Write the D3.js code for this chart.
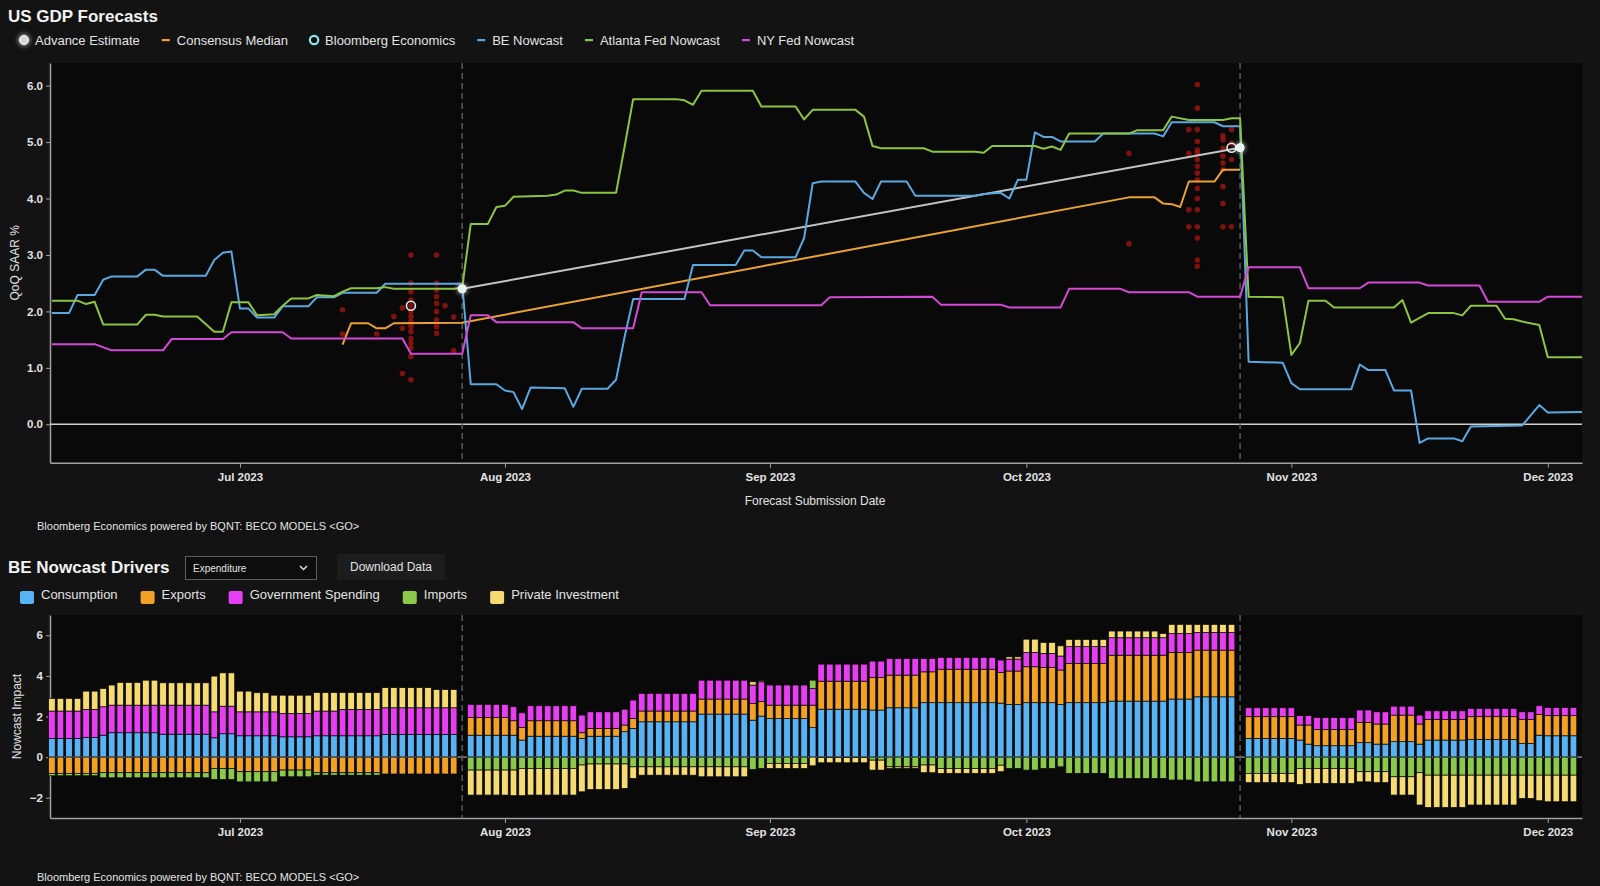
<!DOCTYPE html>
<html lang="en">
  <head>
    <meta charset="utf-8">
    <title>US GDP Forecasts</title>
    <style>
      body {
        margin: 0;
        background-color: #131313;
        font-family: "Liberation Sans", Arial, sans-serif;
      }
      svg {
        display: block;
      }
    </style>
    <script src="https://cdn.jsdelivr.net/npm/d3@7"></script>
  </head>
  <body>
    <script>

    // ---- top chart series: [date, QoQ SAAR %]
    const beNowcast = [
      ["2023-06-09",1.97],["2023-06-11",1.97],["2023-06-12",2.29],["2023-06-14",2.29],["2023-06-15",2.56],["2023-06-16",2.62],
      ["2023-06-19",2.62],["2023-06-20",2.74],["2023-06-21",2.74],["2023-06-22",2.63],["2023-06-27",2.63],["2023-06-28",2.91],
      ["2023-06-29",3.04],["2023-06-30",3.06],["2023-07-01",2.05],["2023-07-02",2.05],["2023-07-03",1.89],["2023-07-05",1.89],
      ["2023-07-06",2.09],["2023-07-09",2.09],["2023-07-10",2.25],["2023-07-12",2.25],["2023-07-13",2.33],["2023-07-17",2.33],
      ["2023-07-18",2.49],["2023-07-27",2.49],["2023-07-28",0.71],["2023-07-31",0.71],["2023-08-01",0.6],["2023-08-02",0.57],
      ["2023-08-03",0.27],["2023-08-04",0.65],["2023-08-08",0.64],["2023-08-09",0.31],["2023-08-10",0.63],["2023-08-13",0.63],
      ["2023-08-14",0.79],["2023-08-15",1.55],["2023-08-16",2.22],["2023-08-22",2.22],["2023-08-23",2.82],["2023-08-28",2.82],
      ["2023-08-29",3.08],["2023-08-30",3.08],["2023-08-31",2.96],["2023-09-04",2.96],["2023-09-05",3.3],["2023-09-06",4.27],
      ["2023-09-07",4.3],["2023-09-11",4.3],["2023-09-12",4.1],["2023-09-13",3.99],["2023-09-14",4.3],["2023-09-17",4.3],
      ["2023-09-18",4.05],["2023-09-25",4.05],["2023-09-26",4.08],["2023-09-28",4.1],["2023-09-29",4.0],["2023-09-30",4.33],
      ["2023-10-01",4.33],["2023-10-02",5.17],["2023-10-03",5.09],["2023-10-04",5.09],["2023-10-05",5.01],["2023-10-09",5.01],
      ["2023-10-10",5.15],["2023-10-16",5.15],["2023-10-17",5.1],["2023-10-18",5.35],["2023-10-23",5.35],["2023-10-24",5.28],
      ["2023-10-26",5.28],["2023-10-27",1.11],["2023-10-31",1.09],["2023-11-01",0.73],["2023-11-02",0.62],["2023-11-08",0.62],
      ["2023-11-09",1.06],["2023-11-10",0.96],["2023-11-12",0.96],["2023-11-13",0.6],["2023-11-15",0.6],["2023-11-16",-0.33],
      ["2023-11-17",-0.25],["2023-11-20",-0.25],["2023-11-21",-0.3],["2023-11-22",-0.04],["2023-11-28",-0.02],["2023-11-29",0.16],
      ["2023-11-30",0.34],["2023-12-01",0.21],["2023-12-05",0.22]
    ];

    const atlantaFed = [
      ["2023-06-09",2.19],["2023-06-12",2.19],["2023-06-13",2.13],["2023-06-14",2.17],["2023-06-15",1.77],["2023-06-19",1.77],
      ["2023-06-20",1.94],["2023-06-21",1.94],["2023-06-22",1.91],["2023-06-26",1.91],["2023-06-28",1.64],["2023-06-29",1.64],
      ["2023-06-30",2.16],["2023-07-02",2.16],["2023-07-03",1.93],["2023-07-05",1.95],["2023-07-06",2.1],["2023-07-07",2.23],
      ["2023-07-09",2.23],["2023-07-10",2.29],["2023-07-12",2.27],["2023-07-13",2.35],["2023-07-14",2.41],["2023-07-17",2.41],
      ["2023-07-18",2.43],["2023-07-19",2.4],["2023-07-26",2.4],["2023-07-27",2.42],["2023-07-28",3.55],["2023-07-30",3.55],
      ["2023-07-31",3.85],["2023-08-01",3.87],["2023-08-02",4.03],["2023-08-06",4.05],["2023-08-07",4.07],["2023-08-08",4.14],
      ["2023-08-09",4.14],["2023-08-10",4.1],["2023-08-14",4.1],["2023-08-15",4.92],["2023-08-16",5.76],["2023-08-21",5.76],
      ["2023-08-22",5.74],["2023-08-23",5.66],["2023-08-24",5.91],["2023-08-30",5.91],["2023-08-31",5.63],["2023-09-04",5.63],
      ["2023-09-05",5.4],["2023-09-06",5.57],["2023-09-11",5.57],["2023-09-12",5.45],["2023-09-13",4.93],["2023-09-14",4.89],
      ["2023-09-19",4.89],["2023-09-20",4.83],["2023-09-25",4.83],["2023-09-26",4.81],["2023-09-27",4.93],["2023-10-02",4.93],
      ["2023-10-03",4.88],["2023-10-04",4.92],["2023-10-05",4.86],["2023-10-06",5.15],["2023-10-13",5.15],["2023-10-14",5.21],
      ["2023-10-17",5.21],["2023-10-18",5.45],["2023-10-20",5.39],["2023-10-24",5.39],["2023-10-25",5.42],["2023-10-26",5.42],
      ["2023-10-27",2.26],["2023-10-31",2.25],["2023-11-01",1.23],["2023-11-02",1.44],["2023-11-03",2.19],["2023-11-05",2.19],
      ["2023-11-06",2.07],["2023-11-13",2.07],["2023-11-14",2.2],["2023-11-15",1.8],["2023-11-17",1.97],["2023-11-20",1.97],
      ["2023-11-21",1.93],["2023-11-22",2.1],["2023-11-25",2.1],["2023-11-26",1.87],["2023-11-27",1.86],["2023-11-28",1.82],
      ["2023-11-30",1.76],["2023-12-01",1.19],["2023-12-05",1.19]
    ];

    const nyFed = [
      ["2023-06-09",1.42],["2023-06-14",1.42],["2023-06-16",1.31],["2023-06-22",1.31],["2023-06-23",1.51],["2023-06-29",1.51],
      ["2023-06-30",1.63],["2023-07-06",1.63],["2023-07-07",1.52],["2023-07-20",1.52],["2023-07-21",1.25],["2023-07-27",1.25],
      ["2023-07-28",1.93],["2023-07-30",1.93],["2023-07-31",1.81],["2023-08-09",1.81],["2023-08-10",1.7],["2023-08-16",1.7],
      ["2023-08-17",2.34],["2023-08-24",2.34],["2023-08-25",2.11],["2023-09-07",2.11],["2023-09-08",2.25],["2023-09-20",2.26],
      ["2023-09-21",2.12],["2023-09-28",2.12],["2023-09-29",2.07],["2023-10-05",2.07],["2023-10-06",2.4],["2023-10-12",2.4],
      ["2023-10-13",2.34],["2023-10-20",2.34],["2023-10-21",2.26],["2023-10-26",2.26],["2023-10-27",2.78],["2023-11-02",2.78],
      ["2023-11-03",2.41],["2023-11-09",2.41],["2023-11-10",2.51],["2023-11-16",2.51],["2023-11-17",2.46],["2023-11-23",2.46],
      ["2023-11-24",2.17],["2023-11-30",2.17],["2023-12-01",2.26],["2023-12-05",2.26]
    ];

    const consensusMedian = [
      ["2023-07-13",1.41],["2023-07-14",1.79],["2023-07-16",1.79],["2023-07-17",1.7],["2023-07-18",1.7],["2023-07-19",1.79],
      ["2023-07-27",1.8],["2023-10-13",4.02],["2023-10-16",4.02],["2023-10-17",3.91],["2023-10-18",3.9],["2023-10-19",3.85],
      ["2023-10-20",4.3],["2023-10-23",4.3],["2023-10-24",4.51],["2023-10-26",4.51]
    ];

    const advanceEstimate = [["2023-07-27",2.4],["2023-10-26",4.9]];
    const bloombergEconomics = [["2023-07-21",2.1],["2023-10-25",4.9]];
    const releaseDates = ["2023-07-27","2023-10-26"];

    // individual economist forecasts (red dots)
    const forecastDots = [
      ["2023-07-13",2.03],["2023-07-13",1.6],["2023-07-17",1.6],["2023-07-19",1.91],["2023-07-20",0.9],["2023-07-20",2.06],
      ["2023-07-20",1.7],["2023-07-21",3.0],["2023-07-21",2.5],["2023-07-21",2.35],["2023-07-21",2.2],["2023-07-21",2.1],
      ["2023-07-21",2.0],["2023-07-21",1.91],["2023-07-21",1.82],["2023-07-21",1.73],["2023-07-21",1.64],["2023-07-21",1.52],
      ["2023-07-21",1.44],["2023-07-21",1.35],["2023-07-21",1.2],["2023-07-21",0.79],["2023-07-24",3.0],["2023-07-24",2.5],
      ["2023-07-24",2.38],["2023-07-24",2.26],["2023-07-24",2.14],["2023-07-24",2.0],["2023-07-24",1.85],["2023-07-24",1.73],
      ["2023-07-24",1.61],["2023-07-25",2.1],["2023-07-26",1.9],["2023-07-26",1.3],
      ["2023-10-13",4.8],["2023-10-13",3.2],["2023-10-20",5.22],["2023-10-20",4.8],["2023-10-20",3.8],["2023-10-20",3.5],
      ["2023-10-21",6.02],["2023-10-21",5.6],["2023-10-21",5.22],["2023-10-21",5.01],["2023-10-21",4.86],["2023-10-21",4.8],
      ["2023-10-21",4.69],["2023-10-21",4.57],["2023-10-21",4.45],["2023-10-21",4.33],["2023-10-21",4.18],["2023-10-21",4.0],
      ["2023-10-21",3.8],["2023-10-21",3.5],["2023-10-21",3.3],["2023-10-21",2.91],["2023-10-21",2.8],
      ["2023-10-24",5.11],["2023-10-24",5.04],["2023-10-24",4.89],["2023-10-24",4.75],["2023-10-24",4.63],["2023-10-24",4.51],
      ["2023-10-24",4.21],["2023-10-24",3.91],["2023-10-24",3.5],["2023-10-25",5.22],["2023-10-25",4.98],["2023-10-25",4.69],
      ["2023-10-25",3.5]
    ];

    // ---- bottom chart: daily drivers, three runs of days
    const barRunStarts = ["2023-06-09","2023-07-28","2023-10-27"];
    const barRunLengths = [48, 90, 39];

    const consumption = [
      .92,.92,.92,.92,.97,.97,1.08,1.2,1.2,1.2,1.2,1.2,1.2,1.13,1.13,1.13,1.13,1.13,1.13,.95,1.15,1.15,
      1.05,1.05,1.05,1.05,1.05,1,1,1,1,1.05,1.05,1.05,1.05,1.05,1.05,1.05,1.05,1.12,1.12,1.12,1.12,1.12,1.12,1.12,1.12,1.12,
      1.08,1.08,1.08,1.08,1.08,1.08,.84,1.03,1.03,1.03,1.03,1.03,1.03,.92,1.03,1.03,1.03,1.03,1.25,1.41,1.74,1.74,1.74,1.74,1.74,1.74,1.74,
      2.12,2.12,2.12,2.12,2.12,2.12,1.82,2.02,1.9,1.9,1.9,1.9,1.9,1.45,2.36,2.36,2.36,2.36,2.36,2.36,2.32,2.32,2.43,2.43,2.43,2.43,
      2.68,2.68,2.68,2.68,2.68,2.68,2.68,2.68,2.68,2.66,2.59,2.59,2.68,2.68,2.68,2.68,2.59,2.68,2.68,2.68,2.68,2.68,
      2.76,2.76,2.76,2.76,2.76,2.76,2.76,2.86,2.86,2.86,2.97,2.97,2.97,2.97,2.97,
      .92,.92,.92,.92,.92,.92,.84,.64,.56,.56,.56,.56,.56,.71,.71,.64,.64,.76,.76,.76,.64,.84,.84,.84,.84,.84,
      .87,.87,.87,.87,.87,.87,.67,.67,1.08,1.05,1.05,1.05,1.05
    ];

    const exportsImpact = [
      -.8,-.8,-.8,-.8,-.8,-.8,-.77,-.77,-.77,-.77,-.77,-.77,-.77,-.77,-.77,-.77,-.77,-.77,-.77,-.56,-.56,-.56,
      -.72,-.72,-.72,-.72,-.72,-.64,-.64,-.64,-.64,-.77,-.77,-.77,-.77,-.77,-.77,-.77,-.77,-.84,-.84,-.84,-.84,-.84,-.84,-.84,-.84,-.84,
      .87,.87,.87,.87,.87,.71,.61,.76,.76,.76,.76,.76,.76,.28,.38,.38,.38,.38,.33,.49,.53,.53,.53,.53,.53,.53,.53,
      .74,.74,.74,.74,.74,.74,.82,.71,.66,.66,.66,.66,.66,1.11,1.38,1.38,1.38,1.38,1.38,1.38,1.6,1.6,1.61,1.61,1.61,1.61,
      1.52,1.52,1.65,1.65,1.65,1.65,1.65,1.65,1.65,1.51,1.65,1.65,1.77,1.77,1.74,1.74,1.7,1.93,1.93,1.93,1.93,1.93,
      2.26,2.26,2.26,2.26,2.26,2.26,2.26,2.3,2.3,2.3,2.3,2.3,2.3,2.3,2.3,
      1.07,1.07,1.07,1.07,1.07,1.07,.74,.94,.8,.8,.8,.8,.8,1,1,.99,.99,1.31,1.31,1.31,.99,1.02,1.02,1.02,1.02,1.02,
      1.12,1.12,1.12,1.12,1.12,1.12,1.19,1.19,1.02,.99,.99,.99,.99
    ];

    const govSpending = [
      1.35,1.35,1.35,1.35,1.38,1.38,1.4,1.36,1.36,1.36,1.36,1.36,1.36,1.43,1.43,1.43,1.43,1.43,1.43,1.28,1.36,1.36,
      1.18,1.18,1.18,1.18,1.18,1.15,1.15,1.15,1.15,1.22,1.22,1.22,1.3,1.3,1.3,1.3,1.3,1.31,1.31,1.31,1.31,1.31,1.31,1.31,1.31,1.31,
      .65,.65,.65,.65,.65,.69,.73,.74,.74,.74,.74,.74,.74,.87,.82,.82,.82,.82,.78,.91,.87,.87,.87,.87,.87,.87,.87,
      .93,.93,.93,.93,.93,.93,.91,.98,.99,.99,.99,.99,.99,.82,.84,.84,.84,.84,.84,.84,.81,.81,.82,.82,.82,.82,
      .66,.66,.58,.58,.58,.58,.58,.58,.58,.61,.59,.59,.71,.71,.69,.69,.69,.83,.83,.83,.83,.83,
      .86,.86,.86,.86,.86,.86,.86,.93,.93,.93,.87,.87,.87,.87,.87,
      .44,.44,.44,.44,.44,.44,.46,.46,.59,.59,.59,.59,.59,.61,.61,.6,.6,.44,.44,.44,.44,.42,.42,.42,.42,.42,
      .41,.41,.41,.41,.41,.41,.37,.37,.43,.41,.41,.41,.41
    ];

    const importsImpact = [
      -.12,-.12,-.12,-.12,-.12,-.12,-.25,-.25,-.25,-.25,-.25,-.25,-.25,-.25,-.25,-.25,-.25,-.25,-.25,-.54,-.54,-.54,
      -.5,-.5,-.5,-.5,-.5,-.33,-.33,-.33,-.33,-.12,-.12,-.12,-.12,-.12,-.12,-.12,-.12,-.03,-.03,-.03,-.03,-.03,-.03,-.03,-.03,-.03,
      -.64,-.64,-.64,-.64,-.64,-.64,-.56,-.56,-.56,-.56,-.56,-.56,-.56,-.39,-.34,-.34,-.34,-.34,-.34,-.48,-.48,-.48,-.48,-.48,-.48,-.48,-.48,
      -.48,-.48,-.48,-.48,-.48,-.48,-.61,-.56,-.31,-.31,-.31,-.31,-.31,.41,-.02,-.02,-.02,-.02,-.02,-.02,-.15,-.15,-.48,-.48,-.48,-.48,
      -.39,-.39,-.56,-.56,-.56,-.56,-.56,-.56,-.56,-.4,-.56,-.56,-.64,-.64,-.56,-.56,-.48,-.8,-.8,-.8,-.8,-.8,
      -1.05,-1.05,-1.05,-1.05,-1.05,-1.05,-1.05,-1.13,-1.13,-1.13,-1.22,-1.22,-1.22,-1.22,-1.22,
      -.8,-.8,-.8,-.8,-.8,-.8,-.56,-.56,-.56,-.56,-.56,-.56,-.56,-.72,-.72,-.72,-.72,-.97,-.97,-.97,-.77,-.89,-.89,-.89,-.89,-.89,
      -.89,-.89,-.89,-.89,-.89,-.89,-.89,-.89,-.89,-.89,-.89,-.89,-.89
    ];

    const privateInvestment = [
      .62,.62,.62,.62,.9,.9,.9,.99,1.12,1.12,1.12,1.23,1.23,1.1,1.1,1.1,1.1,1.1,1.1,1.76,1.64,1.64,
      1.02,1.02,.94,.94,.82,.9,.9,.9,.9,.91,.91,.91,.83,.83,.83,.83,.83,.99,.99,.99,.99,.99,.99,.9,.9,.9,
      -1.23,-1.23,-1.23,-1.23,-1.23,-1.26,-1.34,-1.31,-1.31,-1.31,-1.31,-1.31,-1.31,-1.32,-1.26,-1.26,-1.26,-1.26,-1.2,-.57,-.41,-.41,-.41,-.41,-.41,-.41,-.41,
      -.49,-.49,-.49,-.49,-.49,-.49,.16,.05,-.25,-.25,-.25,-.25,-.25,-.43,-.26,-.26,-.26,-.26,-.26,-.26,-.49,-.49,-.08,-.08,-.08,-.08,
      -.38,-.38,-.24,-.24,-.24,-.24,-.24,-.24,-.24,-.32,.11,.11,.65,.65,.54,.54,.5,.36,.36,.36,.36,.36,
      .33,.33,.33,.33,.33,.33,.21,.45,.45,.45,.4,.4,.4,.4,.4,
      -.46,-.46,-.46,-.46,-.46,-.46,-.79,-.74,-.74,-.74,-.74,-.74,-.74,-.5,-.5,-.54,-.54,-.9,-.9,-.9,-1.59,-1.59,-1.59,-1.59,-1.59,-1.59,
      -1.47,-1.47,-1.47,-1.47,-1.47,-1.47,-1.15,-1.15,-1.26,-1.31,-1.31,-1.31,-1.31
    ];

    const driverKeys = ["Consumption","Exports","Government Spending","Imports","Private Investment"];
    const driverColors = ["#58b3f5","#f2a124","#e83ef2","#8cc84a","#f6da72"];

    const lineSeries = [
      {name: "Consensus Median", data: consensusMedian, color: "#eba233"},
      {name: "BE Nowcast", data: beNowcast, color: "#5aa8e0"},
      {name: "Atlanta Fed Nowcast", data: atlantaFed, color: "#8dc440"},
      {name: "NY Fed Nowcast", data: nyFed, color: "#d449d6"}
    ];

    const W = 1600, H = 886;
    const left = 50, right = 1582;
    const top1 = 63, bottom1 = 462.7;
    const top2 = 615, bottom2 = 818;
    const textColor = "#e2e2e2";

    const parse = d3.timeParse("%Y-%m-%d");
    const toPoints = arr => arr.map(d => ({date: parse(d[0]), v: d[1]}));

    const svg = d3.select("body").append("svg")
      .attr("width", W)
      .attr("height", H)
      .style("background-color", "#131313");

    const defs = svg.append("defs");
    const glow = defs.append("filter").attr("id", "glow")
      .attr("x", "-150%").attr("y", "-150%").attr("width", "400%").attr("height", "400%");
    glow.append("feGaussianBlur").attr("stdDeviation", 2.5).attr("result", "b");
    const fm = glow.append("feMerge");
    fm.append("feMergeNode").attr("in", "b");
    fm.append("feMergeNode").attr("in", "SourceGraphic");

    defs.append("clipPath").attr("id", "clip1")
      .append("rect").attr("x", left).attr("y", top1).attr("width", right - left).attr("height", bottom1 - top1);

    const x = d3.scaleTime()
      .domain([new Date(2023, 5, 8, 18, 40), new Date(2023, 11, 5)])
      .range([left, right]);

    const y1 = d3.scaleLinear().domain([-0.68, 6.4]).range([bottom1, top1]);
    const y2 = d3.scaleLinear().domain([-3, 7]).range([bottom2, top2]);

    const styleAxis = g => {
      g.select(".domain").attr("stroke", "#a0a0a0").attr("stroke-width", 1.5);
      g.selectAll(".tick line").attr("stroke", "#a0a0a0");
      g.selectAll(".tick text")
        .attr("fill", textColor)
        .style("font-size", "11.5px")
        .style("font-weight", "bold")
        .style("font-family", "\"Liberation Sans\", Arial, sans-serif");
    };

    // ================= TOP CHART =================
    svg.append("text")
      .attr("x", 8).attr("y", 22)
      .attr("fill", "#f2f2f2")
      .style("font-size", "17px").style("font-weight", "bold")
      .text("US GDP Forecasts");

    // legend
    const legend1 = [
      {name: "Advance Estimate", type: "dot"},
      {name: "Consensus Median", type: "dash", color: "#eba233"},
      {name: "Bloomberg Economics", type: "ring"},
      {name: "BE Nowcast", type: "dash", color: "#5aa8e0"},
      {name: "Atlanta Fed Nowcast", type: "dash", color: "#8dc440"},
      {name: "NY Fed Nowcast", type: "dash", color: "#d449d6"}
    ];
    let lx = 19;
    legend1.forEach(item => {
      const g = svg.append("g").attr("transform", `translate(${lx},40)`);
      if (item.type === "dot") {
        g.append("circle").attr("cx", 5).attr("cy", 0).attr("r", 4.5)
          .attr("fill", "#d8d8d8").attr("stroke", "#ffffff").attr("stroke-width", 1).attr("filter", "url(#glow)");
      } else if (item.type === "ring") {
        g.append("circle").attr("cx", 5).attr("cy", 0).attr("r", 4.2)
          .attr("fill", "#0c0c0c").attr("stroke", "#8fe6e6").attr("stroke-width", 2.2);
      } else {
        g.append("rect").attr("x", 1).attr("y", -1).attr("width", 8).attr("height", 2.2).attr("fill", item.color);
      }
      const t = g.append("text")
        .attr("x", 16).attr("y", 4.5)
        .attr("fill", textColor)
        .style("font-size", "13px")
        .text(item.name);
      lx += 16 + t.node().getComputedTextLength() + 21;
    });

    svg.append("rect")
      .attr("x", left).attr("y", top1)
      .attr("width", right - left).attr("height", bottom1 - top1)
      .attr("fill", "#090909");

    svg.append("g")
      .attr("transform", `translate(${left},0)`)
      .call(d3.axisLeft(y1).tickValues([0, 1, 2, 3, 4, 5, 6]).tickFormat(d3.format(".1f")).tickSize(4).tickSizeOuter(0))
      .call(styleAxis);

    svg.append("g")
      .attr("transform", `translate(0,${bottom1})`)
      .call(d3.axisBottom(x).ticks(d3.timeMonth.every(1)).tickFormat(d3.timeFormat("%b %Y")).tickSize(5).tickPadding(5).tickSizeOuter(0))
      .call(styleAxis);

    svg.append("text")
      .attr("transform", `translate(19,${(top1 + bottom1) / 2}) rotate(-90)`)
      .attr("text-anchor", "middle")
      .attr("fill", textColor)
      .style("font-size", "12px")
      .text("QoQ SAAR %");

    svg.append("text")
      .attr("x", 815).attr("y", 505)
      .attr("text-anchor", "middle")
      .attr("fill", textColor)
      .style("font-size", "12px")
      .text("Forecast Submission Date");

    svg.append("text")
      .attr("x", 37).attr("y", 530)
      .attr("fill", textColor)
      .style("font-size", "11px")
      .text("Bloomberg Economics powered by BQNT: BECO MODELS <GO>");

    const plot1 = svg.append("g").attr("clip-path", "url(#clip1)");

    plot1.append("line")
      .attr("x1", left).attr("x2", right)
      .attr("y1", y1(0)).attr("y2", y1(0))
      .attr("stroke", "#cfcfcf").attr("stroke-width", 1.5);

    plot1.selectAll(".release")
      .data(releaseDates)
      .join("line")
      .attr("x1", d => x(parse(d))).attr("x2", d => x(parse(d)))
      .attr("y1", top1).attr("y2", bottom1)
      .attr("stroke", "#5a5a5a").attr("stroke-width", 1.5)
      .attr("stroke-dasharray", "6,4");

    plot1.selectAll(".fdot")
      .data(toPoints(forecastDots))
      .join("circle")
      .attr("cx", d => x(d.date))
      .attr("cy", d => y1(d.v))
      .attr("r", 2.8)
      .attr("fill", "#e01812")
      .attr("opacity", 0.55);

    const line = d3.line().x(d => x(d.date)).y(d => y1(d.v));

    plot1.append("path")
      .datum(toPoints(advanceEstimate))
      .attr("d", line)
      .attr("fill", "none")
      .attr("stroke", "#c4c4c4")
      .attr("stroke-width", 2);

    lineSeries.forEach(s => {
      plot1.append("path")
        .datum(toPoints(s.data))
        .attr("d", line)
        .attr("fill", "none")
        .attr("stroke", s.color)
        .attr("stroke-width", 2)
        .attr("stroke-linejoin", "round");
    });

    plot1.selectAll(".be")
      .data(toPoints(bloombergEconomics))
      .join("circle")
      .attr("cx", d => x(d.date))
      .attr("cy", d => y1(d.v))
      .attr("r", 4.5)
      .attr("fill", "none")
      .attr("stroke", "#e4eeee")
      .attr("stroke-width", 1.6);

    plot1.selectAll(".adv")
      .data(toPoints(advanceEstimate))
      .join("circle")
      .attr("cx", d => x(d.date))
      .attr("cy", d => y1(d.v))
      .attr("r", 4)
      .attr("fill", "#e6f2ee")
      .attr("stroke", "#ffffff")
      .attr("filter", "url(#glow)");

    // ================= BOTTOM CHART =================
    svg.append("text")
      .attr("x", 8).attr("y", 573)
      .attr("fill", "#f2f2f2")
      .style("font-size", "17px").style("font-weight", "bold")
      .text("BE Nowcast Drivers");

    // dropdown + button
    svg.append("rect")
      .attr("x", 185.5).attr("y", 556.5).attr("width", 131).attr("height", 23)
      .attr("fill", "#0d0d0d").attr("stroke", "#5e5e5e");
    svg.append("text")
      .attr("x", 193).attr("y", 572)
      .attr("fill", textColor)
      .style("font-size", "10px")
      .text("Expenditure");
    svg.append("path")
      .attr("d", "M300,566 l3.5,3.5 l3.5,-3.5")
      .attr("fill", "none").attr("stroke", "#dddddd").attr("stroke-width", 1.5);

    svg.append("rect")
      .attr("x", 337).attr("y", 554).attr("width", 108).attr("height", 26)
      .attr("fill", "#1d1d1d");
    svg.append("text")
      .attr("x", 391).attr("y", 571)
      .attr("text-anchor", "middle")
      .attr("fill", textColor)
      .style("font-size", "12px")
      .text("Download Data");

    let lx2 = 20;
    driverKeys.forEach((k, i) => {
      const g = svg.append("g").attr("transform", `translate(${lx2},0)`);
      g.append("rect")
        .attr("x", 0).attr("y", 591).attr("width", 14).attr("height", 13).attr("rx", 2)
        .attr("fill", driverColors[i]);
      const t = g.append("text")
        .attr("x", 21).attr("y", 599)
        .attr("fill", textColor)
        .style("font-size", "13px")
        .text(k);
      lx2 += 21 + t.node().getComputedTextLength() + 23;
    });

    svg.append("rect")
      .attr("x", left).attr("y", top2)
      .attr("width", right - left).attr("height", bottom2 - top2)
      .attr("fill", "#090909");

    svg.append("g")
      .attr("transform", `translate(${left},0)`)
      .call(d3.axisLeft(y2).tickValues([-2, 0, 2, 4, 6]).tickSize(4).tickSizeOuter(0))
      .call(styleAxis);

    svg.append("g")
      .attr("transform", `translate(0,${bottom2})`)
      .call(d3.axisBottom(x).ticks(d3.timeMonth.every(1)).tickFormat(d3.timeFormat("%b %Y")).tickSize(5).tickPadding(5).tickSizeOuter(0))
      .call(styleAxis);

    svg.append("text")
      .attr("transform", `translate(21,${(top2 + bottom2) / 2}) rotate(-90)`)
      .attr("text-anchor", "middle")
      .attr("fill", textColor)
      .style("font-size", "12px")
      .text("Nowcast Impact");

    svg.append("text")
      .attr("x", 37).attr("y", 881)
      .attr("fill", textColor)
      .style("font-size", "11px")
      .text("Bloomberg Economics powered by BQNT: BECO MODELS <GO>");

    svg.append("line")
      .attr("x1", left).attr("x2", right)
      .attr("y1", y2(0)).attr("y2", y2(0))
      .attr("stroke", "#bdbdbd").attr("stroke-width", 1);

    svg.selectAll(".release2")
      .data(releaseDates)
      .join("line")
      .attr("x1", d => x(parse(d))).attr("x2", d => x(parse(d)))
      .attr("y1", top2).attr("y2", bottom2)
      .attr("stroke", "#5a5a5a").attr("stroke-width", 1.5)
      .attr("stroke-dasharray", "6,4");

    // build rows from the day runs
    const barDates = [];
    barRunStarts.forEach((s, r) => {
      d3.range(barRunLengths[r]).forEach(i => barDates.push(d3.timeDay.offset(parse(s), i)));
    });
    const rows = barDates.map((date, i) => ({
      date: date,
      "Consumption": consumption[i],
      "Exports": exportsImpact[i],
      "Government Spending": govSpending[i],
      "Imports": importsImpact[i],
      "Private Investment": privateInvestment[i]
    }));

    const stacked = d3.stack().keys(driverKeys).offset(d3.stackOffsetDiverging)(rows);
    const bw = 6.6;

    svg.append("g")
      .selectAll("g")
      .data(stacked)
      .join("g")
      .attr("fill", (d, i) => driverColors[i])
      .selectAll("rect")
      .data(d => d)
      .join("rect")
      .attr("x", d => x(d.data.date) - bw / 2)
      .attr("y", d => y2(Math.max(d[0], d[1])))
      .attr("width", bw)
      .attr("height", d => Math.abs(y2(d[0]) - y2(d[1])))
      .attr("stroke", "#050505")
      .attr("stroke-width", 0.7);

    </script>
  </body>
</html>
